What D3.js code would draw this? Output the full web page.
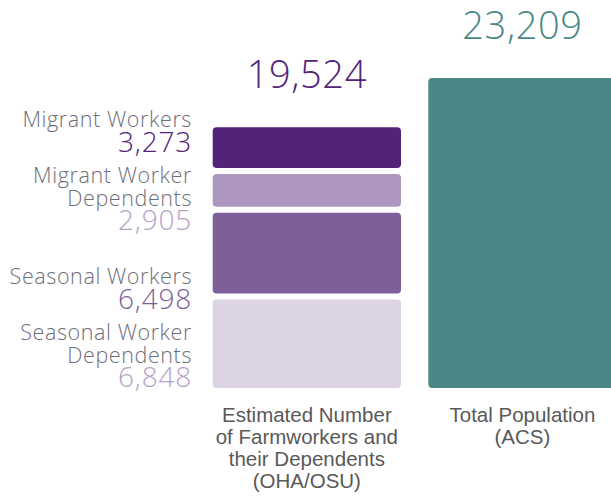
<!DOCTYPE html>
<html>
<head>
<meta charset="utf-8">
<script src="https://cdn.jsdelivr.net/npm/d3@7"></script>
<style>
  html, body { margin: 0; padding: 0; background: #fff; }
  svg { display: block; }
</style>
</head>
<body>
<svg id="chart" width="611" height="496"></svg>
<script>
// Farmworker segments, listed top to bottom of the stacked bar
const segmentNames = ["Migrant Workers", "Migrant Worker Dependents", "Seasonal Workers", "Seasonal Worker Dependents"];
const segmentLabelLines = [["Migrant Workers"], ["Migrant Worker", "Dependents"], ["Seasonal Workers"], ["Seasonal Worker", "Dependents"]];
const segmentValues = [3273, 2905, 6498, 6848];
const segmentColors = ["#522479", "#ad97c1", "#7d5f9a", "#dcd3e5"];
const segmentLabelColors = ["#522479", "#b5a1c9", "#7d5f9a", "#b5a1c9"];

// The two bars being compared
const barCategories = ["farmworkers", "population"];
const barLabelLines = [["Estimated Number", "of Farmworkers and", "their Dependents", "(OHA/OSU)"], ["Total Population", "(ACS)"]];
const populationTotal = 23209;
const totalColors = ["#522479", "#4a8786"];

const fmt = d3.format(",");
const svg = d3.select("#chart");

const farmTotal = d3.sum(segmentValues);
const totals = [farmTotal, populationTotal];

const y = d3.scaleLinear().domain([0, d3.max(totals)]).range([388, 78]);
const x = d3.scaleBand().domain(barCategories).range([212.7, 616.6]).paddingInner(0.1266).paddingOuter(0);

// Stack from the bottom up, so reverse the top-to-bottom order
const row = {};
segmentNames.forEach((n, i) => row[n] = segmentValues[i]);
const stacked = d3.stack().keys(segmentNames.slice().reverse())([row]);
const gap = 6;
const last = segmentNames.length - 1;

const segs = segmentNames.map((name, i) => {
  const s = stacked.find(l => l.key === name)[0];
  return { name, i, lo: s[0], hi: s[1] };
});

svg.append("g").selectAll("rect").data(segs).join("rect")
  .attr("x", x("farmworkers"))
  .attr("width", x.bandwidth())
  .attr("y", d => y(d.hi) + (d.i === 0 ? 0 : gap / 2))
  .attr("height", d => (y(d.lo) - y(d.hi)) - (d.i === 0 ? 0 : gap / 2) - (d.i === last ? 0 : gap / 2))
  .attr("rx", 4)
  .attr("fill", d => segmentColors[d.i]);

// Total population bar
svg.append("rect")
  .attr("x", x("population"))
  .attr("width", x.bandwidth())
  .attr("y", y(populationTotal))
  .attr("height", y(0) - y(populationTotal))
  .attr("rx", 4)
  .attr("fill", totalColors[1]);

const labelFont = "'Open Sans', 'Noto Sans', sans-serif";

// Totals above each bar
svg.append("g").selectAll("text").data(barCategories).join("text")
  .attr("x", d => x(d) + x.bandwidth() / 2)
  .attr("y", (d, i) => y(totals[i]) - 39.5)
  .attr("text-anchor", "middle")
  .attr("font-family", labelFont)
  .attr("font-weight", 300)
  .attr("font-size", 38)
  .attr("letter-spacing", 0.6)
  .attr("fill", (d, i) => totalColors[i])
  .text((d, i) => fmt(totals[i]));

// Segment labels, evenly spaced up from the bar's baseline
const labelRight = 192;
const labelStep = 78.5;
const lg = svg.append("g").attr("font-family", labelFont).attr("text-anchor", "end");
segs.forEach(d => {
  const numBase = y(0) - 1 - (last - d.i) * labelStep;
  lg.append("text")
    .attr("x", labelRight).attr("y", numBase)
    .attr("font-size", 28).attr("font-weight", 300)
    .attr("letter-spacing", 0.8)
    .attr("fill", segmentLabelColors[d.i])
    .text(fmt(segmentValues[d.i]));
  const lines = segmentLabelLines[d.i];
  lines.forEach((t, k) => {
    lg.append("text")
      .attr("x", labelRight)
      .attr("y", numBase - 24.5 - (lines.length - 1 - k) * 22.5)
      .attr("font-size", 21.5).attr("font-weight", 300)
      .attr("letter-spacing", 0.6)
      .attr("fill", "#6e6e7a")
      .text(t);
  });
});

// Category labels under the bars
const cg = svg.append("g").attr("font-family", "'Liberation Sans', Arial, sans-serif")
  .attr("text-anchor", "middle").attr("font-size", 20.5).attr("fill", "#595959");
barCategories.forEach((c, i) => {
  barLabelLines[i].forEach((t, k) => {
    cg.append("text")
      .attr("x", x(c) + x.bandwidth() / 2)
      .attr("y", 422 + k * 22)
      .text(t);
  });
});
</script>
</body>
</html>
